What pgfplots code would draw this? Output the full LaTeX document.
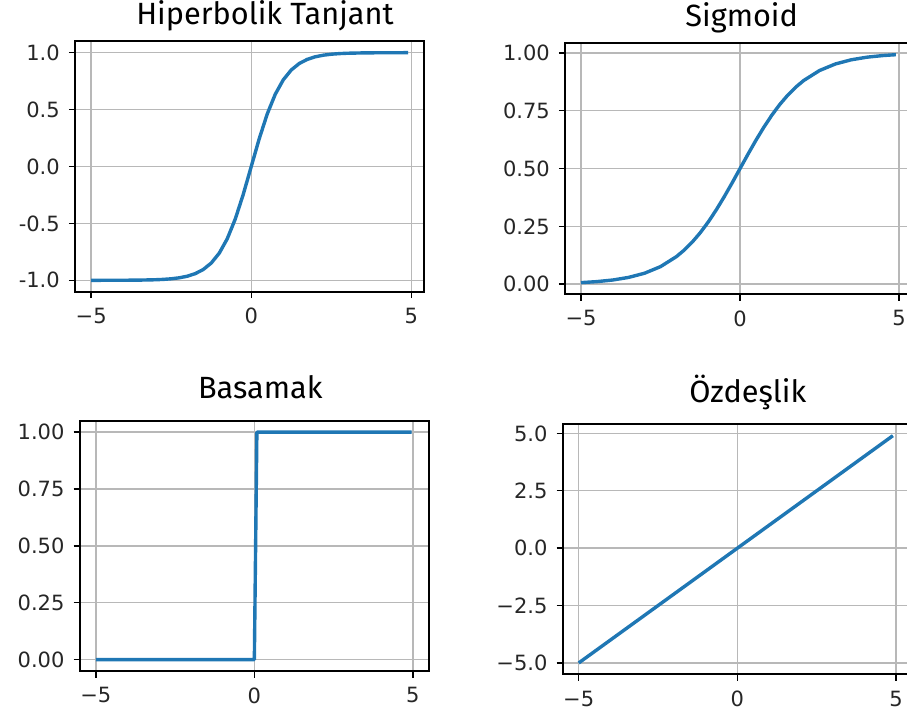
\documentclass[border=0pt]{standalone}
\usepackage{fontspec}
\setmainfont{DejaVu Sans}
\newfontfamily\titlefont{Fira Sans}
\usepackage{pgfplots}
\pgfplotsset{compat=1.18}
\definecolor{mplblue}{HTML}{1F77B4}
\definecolor{gridgray}{HTML}{B8B8B8}
\definecolor{inkgray}{HTML}{262626}

\pgfplotsset{
  panel/.style={
    scale only axis,
    anchor=north west,
    xtick={-5,0,5},
    xticklabels={−5,0,5},
    tick pos=left,
    tick align=outside,
    major tick length=6.5pt,
    grid=major,
    grid style={line width=1.4pt, gridgray},
    axis line style={line width=1.8pt, black},
    tick style={line width=1.4pt, black},
    tick label style={font=\fontsize{21}{24}\selectfont, text=inkgray},
    xticklabel style={yshift=-6.5pt},
    yticklabel style={xshift=-5.5pt},
  },
  curve/.style={mplblue, line width=3.4pt, line join=round},
}
\tikzset{ttl/.style={anchor=base, font=\titlefont\fontsize{30.7}{36}\selectfont}}

\begin{document}
\begin{tikzpicture}
% hiperbolik tanjant
\begin{axis}[panel, at={(75.3pt,-41.3pt)}, width=348.7pt, height=250.4pt,
  xmin=-5.495, xmax=5.395, ymin=-1.09999, ymax=1.09999,
  ytick={-1,-0.5,0,0.5,1}, yticklabels={-1.0,-0.5,0.0,0.5,1.0}]
\addplot[curve] coordinates {
  (-5,-0.99991) (-4.5,-0.99975) (-4,-0.99933) (-3.5,-0.99818) (-3,-0.99505)
  (-2.75,-0.99186) (-2.5,-0.98661) (-2.25,-0.97803) (-2,-0.96403)
  (-1.75,-0.94138) (-1.5,-0.90515) (-1.25,-0.84828) (-1,-0.76159)
  (-0.75,-0.63515) (-0.5,-0.46212) (-0.25,-0.24492) (0,0)
  (0.25,0.24492) (0.5,0.46212) (0.75,0.63515) (1,0.76159)
  (1.25,0.84828) (1.5,0.90515) (1.75,0.94138) (2,0.96403)
  (2.25,0.97803) (2.5,0.98661) (2.75,0.99186) (3,0.99505)
  (3.5,0.99818) (4,0.99933) (4.5,0.99975) (4.9,0.99989)
};
\end{axis}
% sigmoid
\begin{axis}[panel, at={(565.3pt,-43.3pt)}, width=346.3pt, height=250.7pt,
  xmin=-5.495, xmax=5.395, ymin=-0.0426, ymax=1.0419,
  ytick={0,0.25,0.5,0.75,1}, yticklabels={0.00,0.25,0.50,0.75,1.00}]
\addplot[curve] coordinates {
  (-5,0.006693) (-4.5,0.010987) (-4,0.017986) (-3.5,0.029312) (-3,0.047426)
  (-2.5,0.075858) (-2,0.119203) (-1.75,0.148047) (-1.5,0.182426)
  (-1.25,0.222700) (-1,0.268941) (-0.75,0.320821) (-0.5,0.377541)
  (-0.25,0.437823) (0,0.5) (0.25,0.562177) (0.5,0.622459) (0.75,0.679179)
  (1,0.731059) (1.25,0.777300) (1.5,0.817574) (1.75,0.851953) (2,0.880797)
  (2.5,0.924142) (3,0.952574) (3.5,0.970688) (4,0.982014) (4.5,0.989013)
  (4.9,0.992608)
};
\end{axis}
% basamak
\begin{axis}[panel, at={(80pt,-420.7pt)}, width=348.7pt, height=250.3pt,
  xmin=-5.5, xmax=5.5, ymin=-0.05, ymax=1.05,
  ytick={0,0.25,0.5,0.75,1}, yticklabels={0.00,0.25,0.50,0.75,1.00}]
\addplot[curve] coordinates {
  (-5,0) (0,0) (0.08,1) (4.96,1)
};
\end{axis}
% ozdeslik
\begin{axis}[panel, at={(563pt,-424.3pt)}, width=345.6pt, height=250pt,
  xmin=-5.495, xmax=5.395, ymin=-5.495, ymax=5.395,
  ytick={-5,-2.5,0,2.5,5}, yticklabels={−5.0,−2.5,0.0,2.5,5.0}]
\addplot[curve] coordinates {
  (-5,-5) (4.9,4.9)
};
\end{axis}
\node[ttl] at (265pt,-24pt) {Hiperbolik Tanjant};
\node[ttl] at (741.7pt,-26pt) {Sigmoid};
\node[ttl] at (260.3pt,-398.3pt) {Basamak};
\node[ttl] at (747.8pt,-402.3pt) {Özdeşlik};
\pgfresetboundingbox
\path[use as bounding box] (0,0) rectangle (907pt,-720pt);
\end{tikzpicture}
\end{document}
